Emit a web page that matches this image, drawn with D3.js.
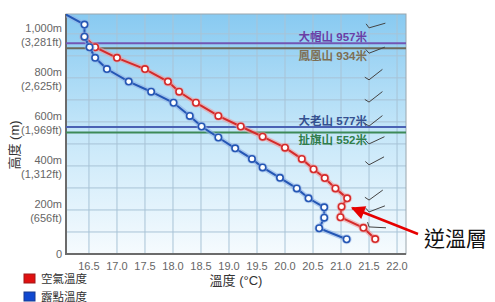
<!DOCTYPE html>
<html>
<head>
<meta charset="utf-8">
<script src="https://cdn.jsdelivr.net/npm/d3@7"></script>
<style>
  body { margin: 0; background: #fff; }
  text { font-family: "Liberation Sans", "Noto Sans CJK TC", sans-serif; }
</style>
</head>
<body>
<script>
// 露點溫度 (藍)
var dewHeights = [1100, 1042, 987, 939, 891, 840, 783, 737, 687, 627, 579, 529, 480, 432, 393, 346, 298, 253, 212, 165, 117, 67];
var dewTemps   = [16.0, 16.42, 16.42, 16.51, 16.61, 16.82, 17.21, 17.61, 18.01, 18.30, 18.51, 18.81, 19.11, 19.41, 19.60, 19.91, 20.21, 20.42, 20.70, 20.70, 20.61, 21.10];

// 空氣溫度 (紅)
var airHeights = [987, 939, 891, 840, 783, 737, 687, 627, 579, 533, 483, 432, 385, 345, 298, 253, 215, 167, 119, 68];
var airTemps   = [16.42, 16.61, 17.0, 17.5, 17.91, 18.11, 18.41, 18.81, 19.21, 19.60, 20.0, 20.30, 20.51, 20.71, 20.90, 21.11, 21.01, 20.99, 21.40, 21.61];

// 山峰高度
var peakNames   = ["大帽山", "鳳凰山", "大老山", "扯旗山"];
var peakHeights = [957, 934, 577, 552];

// 風向 (高度, 角度)
var windHeights = [1027, 912, 791, 690, 581, 500, 405, 245, 191, 123];
var windDirs    = [16, 21, 38, 38, 38, 25, 28, 36, 21, -3];

// 刻度
var xTicks = [16.5, 17.0, 17.5, 18.0, 18.5, 19.0, 19.5, 20.0, 20.5, 21.0, 21.5, 22.0];
var yTicks = [0, 200, 400, 600, 800, 1000];
var yTickLabels  = ["0", "200m", "400m", "600m", "800m", "1,000m"];
var yTickLabels2 = ["", "(656ft)", "(1,312ft)", "(1,969ft)", "(2,625ft)", "(3,281ft)"];

var legendNames = ["空氣溫度", "露點溫度"];

var svgWidth = 495, svgHeight = 302;
var margin = { top: 14, left: 66 };
var width = 340, height = 240;

var svg = d3.select("body").append("svg")
  .attr("width", svgWidth)
  .attr("height", svgHeight);

var xScale = d3.scaleLinear().domain([16.09, 22.16]).range([0, width]);
var yScale = d3.scaleLinear().domain([0, 1090]).range([height, 0]);

var peakColor = d3.scaleOrdinal().domain(peakNames).range(["#7256b4", "#6e6a5c", "#4a62b4", "#3d8a58"]);
var peakTextColor = d3.scaleOrdinal().domain(peakNames).range(["#6a3ea6", "#7d6f55", "#34508f", "#2f7d4b"]);

var defs = svg.append("defs");
var grad = defs.append("linearGradient").attr("id", "bg")
  .attr("x1", 0).attr("y1", 0).attr("x2", 0).attr("y2", 1);
grad.append("stop").attr("offset", "0%").attr("stop-color", "#88caf1");
grad.append("stop").attr("offset", "50%").attr("stop-color", "#c6e7f9");
grad.append("stop").attr("offset", "100%").attr("stop-color", "#f6fbfe");

defs.append("clipPath").attr("id", "clip")
  .append("rect").attr("width", width).attr("height", height);

defs.append("marker").attr("id", "arrow")
  .attr("viewBox", "0 0 10 10").attr("refX", 9).attr("refY", 5)
  .attr("markerWidth", 6).attr("markerHeight", 5.5).attr("orient", "auto")
  .attr("markerUnits", "strokeWidth")
  .append("path").attr("d", "M0,0L10,5L0,10z").attr("fill", "#e60000");

var g = svg.append("g").attr("transform", "translate(" + margin.left + "," + margin.top + ")");

// 背景
g.append("rect").attr("width", width).attr("height", height).attr("fill", "url(#bg)");

// 格線
g.append("g").selectAll("line").data(d3.range(0, 1100, 100)).enter().append("line")
  .attr("x1", 0).attr("x2", width)
  .attr("y1", function(d) { return yScale(d); }).attr("y2", function(d) { return yScale(d); })
  .attr("stroke", "#a8c3d6").attr("stroke-width", 1);
g.append("g").selectAll("line").data(xTicks).enter().append("line")
  .attr("x1", function(d) { return xScale(d); }).attr("x2", function(d) { return xScale(d); })
  .attr("y1", 0).attr("y2", height)
  .attr("stroke", "#a8c3d6").attr("stroke-width", 1);

// 外框
g.append("rect").attr("width", width).attr("height", height)
  .attr("fill", "none").attr("stroke", "#9aa6ad").attr("stroke-width", 1);
g.append("path").attr("d", "M0,0V" + height + "H" + width)
  .attr("fill", "none").attr("stroke", "#6b6b6b").attr("stroke-width", 2);

// 山峰線
var peaks = peakNames.map(function(n, i) { return { name: n, h: peakHeights[i], i: i }; });
g.selectAll(".peak").data(peaks).enter().append("line")
  .attr("class", "peak")
  .attr("x1", 0).attr("x2", width)
  .attr("y1", function(d) { return yScale(d.h); }).attr("y2", function(d) { return yScale(d.h); })
  .attr("stroke", function(d) { return peakColor(d.name); }).attr("stroke-width", 2);
g.selectAll(".peakLabel").data(peaks).enter().append("text")
  .attr("class", "peakLabel")
  .attr("x", 301).attr("text-anchor", "end")
  .attr("y", function(d) { return yScale(d.h) + (d.i % 2 === 0 ? -2 : 12); })
  .attr("font-size", 11.5).attr("font-weight", "bold")
  .attr("fill", function(d) { return peakTextColor(d.name); })
  .text(function(d) { return d.name + " " + d.h + "米"; });

// 風
var winds = windHeights.map(function(h, i) { return { h: h, dir: windDirs[i] }; });
var barbs = g.append("g").selectAll("g").data(winds).enter().append("g")
  .attr("transform", function(d) { return "translate(" + xScale(21.5) + "," + yScale(d.h) + ")"; });
barbs.append("path")
  .attr("d", function(d) {
    var a = d.dir * Math.PI / 180, b = (d.dir + 110) * Math.PI / 180;
    return "M" + (5 * Math.cos(b)) + "," + (-5 * Math.sin(b)) + "L0,0L" + (17 * Math.cos(a)) + "," + (-17 * Math.sin(a));
  })
  .attr("fill", "none").attr("stroke", "#444").attr("stroke-width", 1);

// 曲線
var line = d3.line()
  .x(function(d) { return xScale(d.t); })
  .y(function(d) { return yScale(d.h); });

var series = [
  { name: "air", color: "#d42a2a", glow: "#f29a9a", pts: airTemps.map(function(t, i) { return { t: t, h: airHeights[i] }; }) },
  { name: "dew", color: "#2456b4", glow: "#8fb0e6", pts: dewTemps.map(function(t, i) { return { t: t, h: dewHeights[i] }; }) }
];

var plot = g.append("g").attr("clip-path", "url(#clip)");
series.forEach(function(s) {
  var sg = plot.append("g");
  sg.append("path").datum(s.pts).attr("d", line)
    .attr("fill", "none").attr("stroke", s.glow).attr("stroke-opacity", 0.6).attr("stroke-width", 5);
  sg.append("path").datum(s.pts).attr("d", line)
    .attr("fill", "none").attr("stroke", s.color).attr("stroke-width", 2);
  sg.selectAll(".glow").data(s.pts).enter().append("circle")
    .attr("cx", function(d) { return xScale(d.t); }).attr("cy", function(d) { return yScale(d.h); })
    .attr("r", 5).attr("fill", s.glow).attr("fill-opacity", 0.5);
  sg.selectAll(".dot").data(s.pts).enter().append("circle")
    .attr("cx", function(d) { return xScale(d.t); }).attr("cy", function(d) { return yScale(d.h); })
    .attr("r", 3.2).attr("fill", "#fff").attr("stroke", s.color).attr("stroke-width", 1.6);
});

// 軸標籤
g.selectAll(".xt").data(xTicks).enter().append("text")
  .attr("x", function(d) { return xScale(d); }).attr("y", height + 16)
  .attr("text-anchor", "middle").attr("font-size", 11).attr("fill", "#666")
  .text(function(d) { return d3.format(".1f")(d); });

var yt = g.selectAll(".yt").data(yTicks).enter().append("g")
  .attr("transform", function(d) { return "translate(-4," + yScale(d) + ")"; });
yt.append("text")
  .attr("y", function(d, i) { return i === 0 ? 4 : -2; })
  .attr("text-anchor", "end").attr("font-size", 11).attr("fill", "#666")
  .text(function(d, i) { return yTickLabels[i]; });
yt.append("text")
  .attr("y", 12)
  .attr("text-anchor", "end").attr("font-size", 11).attr("fill", "#666")
  .text(function(d, i) { return yTickLabels2[i]; });

svg.append("text")
  .attr("transform", "translate(19,145) rotate(-90)")
  .attr("text-anchor", "middle").attr("font-size", 13).attr("fill", "#333")
  .text("高度 (m)");

svg.append("text")
  .attr("x", 236).attr("y", 285)
  .attr("text-anchor", "middle").attr("font-size", 13).attr("fill", "#333")
  .text("溫度 (°C)");

// 圖例
var legendFill = ["#e01010", "#1048d0"];
var legendStroke = ["#a01818", "#183a90"];
var lg = svg.selectAll(".lg").data(legendNames).enter().append("g")
  .attr("transform", function(d, i) { return "translate(24," + (274 + i * 18) + ")"; });
lg.append("rect").attr("width", 11).attr("height", 9)
  .attr("fill", function(d, i) { return legendFill[i]; })
  .attr("stroke", function(d, i) { return legendStroke[i]; }).attr("stroke-width", 1);
lg.append("text").attr("x", 17).attr("y", 9)
  .attr("font-size", 11.5).attr("fill", "#333")
  .text(function(d) { return d; });

// 逆溫層 註解
var tipX = margin.left + xScale(21.2), tipY = margin.top + yScale(209);
svg.append("line")
  .attr("x1", 418).attr("y1", 234).attr("x2", tipX).attr("y2", tipY)
  .attr("stroke", "#e60000").attr("stroke-width", 2.5)
  .attr("marker-end", "url(#arrow)");
svg.append("text")
  .attr("x", 424).attr("y", 246)
  .attr("font-size", 21).attr("fill", "#111")
  .attr("font-family", "'Noto Sans CJK TC', sans-serif")
  .text("逆溫層");
</script>
</body>
</html>
